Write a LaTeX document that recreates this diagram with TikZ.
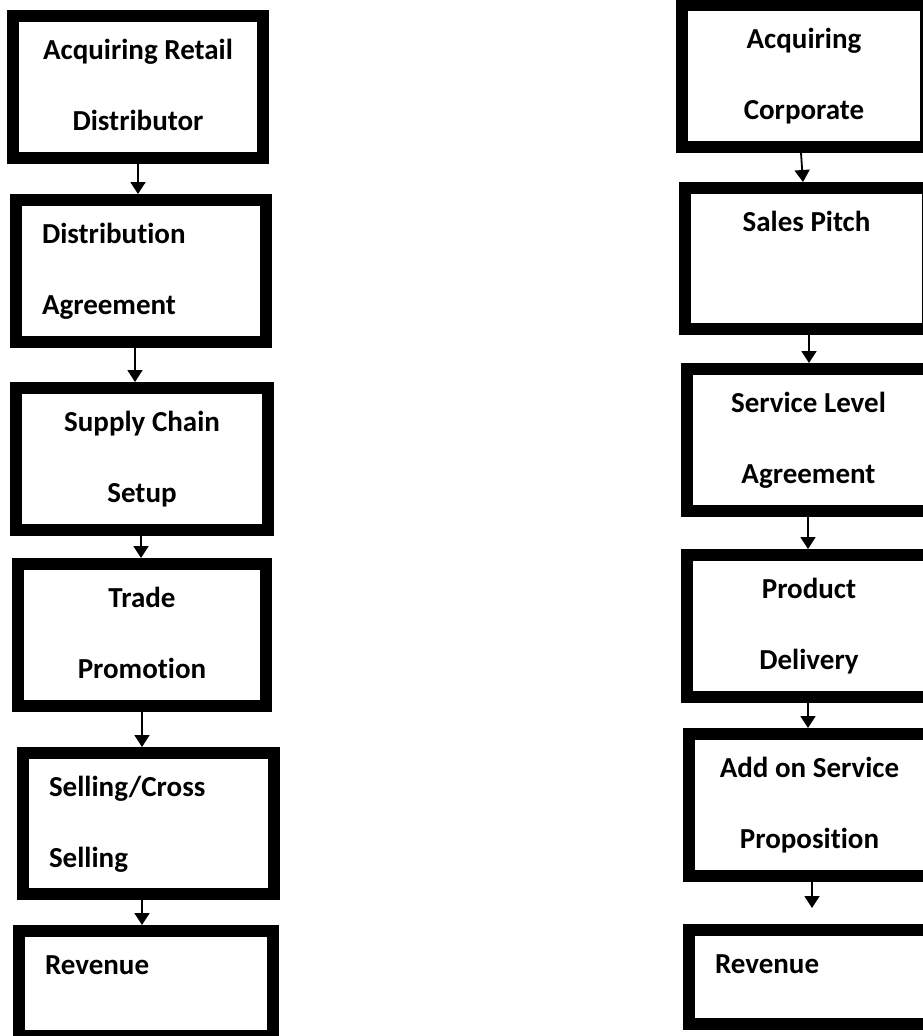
\documentclass[tikz,border=0pt]{standalone}
\usepackage{fontspec}
\setmainfont{Carlito}[Ligatures=NoCommon]
\usetikzlibrary{positioning, arrows.meta}

\tikzset{
    stepbox/.style={draw, line width=12pt, inner sep=0pt, text height=43pt, text depth=99pt,
        align=flush center, font=\fontsize{29pt}{71pt}\selectfont\bfseries},
    leftbox/.style={stepbox, align=flush left, inner xsep=26pt},
    flow/.style={-{Triangle[width=15pt, length=12pt]}, line width=1.8pt}
}

\begin{document}
\begin{tikzpicture}
    \path[use as bounding box, fill=white] (0,0) rectangle (923pt,-1036pt);

    % retail chain, left column
    \node[stepbox, text width=250pt] (L1) at (138pt,-87pt) {Acquiring Retail\\Distributor};
    \node[leftbox, text width=198pt, below=30pt of L1, xshift=3pt] (L2) {Distribution\\Agreement};
    \node[stepbox, text width=252pt, below=34pt of L2, xshift=1pt] (L3) {Supply Chain\\Setup};
    \node[stepbox, text width=248pt, below=22pt of L3] (L4) {Trade\\Promotion};
    \node[leftbox, text width=199pt, text depth=98pt, below=35pt of L4, xshift=6.5pt] (L5) {Selling/Cross\\Selling};
    \node[leftbox, text width=202pt, text depth=62pt, below=25pt of L5, xshift=-2.5pt] (L6) {Revenue};

    % corporate chain, right column
    \node[stepbox, text width=244pt, right=407pt of L1, yshift=11pt] (R1) {Acquiring\\Corporate};
    \node[stepbox, text width=243pt, text depth=98pt, below=29pt of R1, xshift=2.5pt] (R2) {Sales Pitch};
    \node[stepbox, text width=243pt, below=28pt of R2, xshift=2pt] (R3) {Service Level\\Agreement};
    \node[stepbox, text width=244pt, below=32pt of R3, xshift=0.5pt] (R4) {Product\\Delivery};
    \node[stepbox, text width=241pt, below=25pt of R4, xshift=0.5pt] (R5) {Add on Service\\Proposition};
    \node[leftbox, text width=189pt, text depth=51pt, below=42pt of R5] (R6) {Revenue};

    \foreach \a/\b/\dx in {L1/L2/0, L2/L3/-6, L3/L4/-1, L4/L5/0, L5/L6/-6.5,
                           R2/R3/2.5, R3/R4/-0.5, R4/R5/-1}
        \draw[flow] ([xshift=\dx pt]\a.south) coordinate (top) -- (top |- \b.north);
    \draw[flow] ([xshift=-3pt]R1.south) -- ([xshift=-3.5pt]R2.north);
    \draw[flow, shorten >=16pt] ([xshift=2.5pt]R5.south) coordinate (top) -- (top |- R6.north);
\end{tikzpicture}
\end{document}
